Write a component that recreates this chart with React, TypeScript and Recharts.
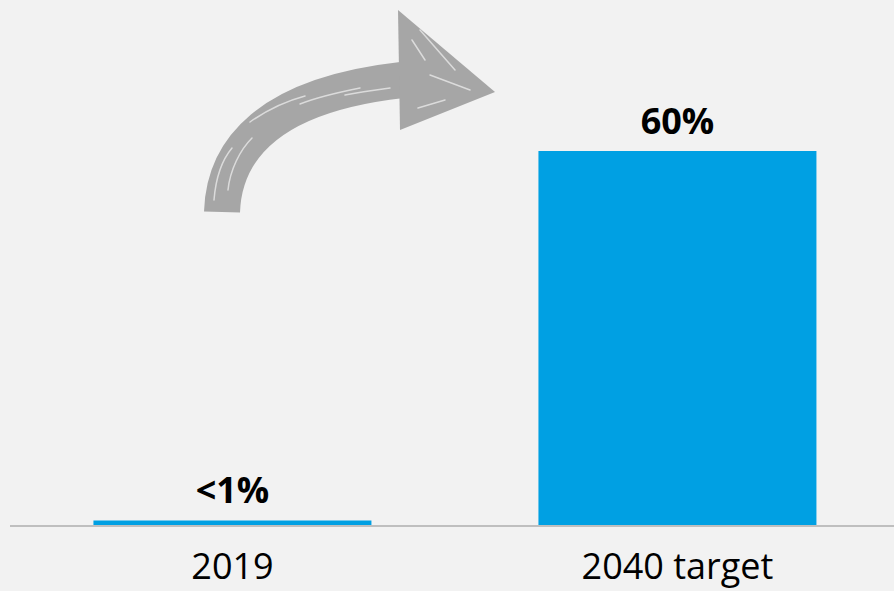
import React from "react";
import { BarChart, Bar, XAxis, YAxis, LabelList } from "recharts";

const categories = ["2019", "2040 target"];
const shareValues = [0.9, 60];
const valueLabels = ["<1%", "60%"];

const data = categories.map((c, i) => ({
  name: c,
  value: shareValues[i],
  label: valueLabels[i],
}));

const FONT = "'Open Sans', 'Noto Sans', sans-serif";

const Arrow = () => (
  <svg
    width={894}
    height={591}
    style={{ position: "absolute", left: 0, top: 0, pointerEvents: "none" }}
  >
    <path
      d="M 222 212 C 224 150, 268 95, 402 80"
      fill="none"
      stroke="#a6a6a6"
      strokeWidth={36}
    />
    <polygon points="398,10 495,92 400,130" fill="#a6a6a6" />
    <g stroke="#f2f2f2" strokeWidth={1.5} strokeLinecap="round" opacity={0.7} fill="none">
      <path d="M 214 200 C 216 175, 222 160, 232 148" />
      <path d="M 228 190 C 230 170, 240 150, 252 138" />
      <path d="M 250 122 C 270 108, 290 100, 305 96" />
      <path d="M 300 104 C 320 96, 340 92, 360 88" />
      <path d="M 345 95 C 360 92, 375 90, 390 88" />
      <path d="M 412 40 L 425 60" />
      <path d="M 420 30 L 455 70" />
      <path d="M 418 108 L 445 100" />
      <path d="M 430 75 L 470 90" />
    </g>
  </svg>
);

export default function App() {
  return (
    <div
      style={{
        position: "absolute",
        left: 0,
        top: 0,
        width: 894,
        height: 591,
        overflow: "hidden",
        background: "#f2f2f2",
      }}
    >
      <BarChart
        width={900}
        height={591}
        data={data}
        margin={{ top: 151, right: 0, bottom: 0, left: 10 }}
        barCategoryGap="18.75%"
      >
        <YAxis hide domain={[0, 60]} />
        <XAxis
          dataKey="name"
          height={65}
          axisLine={{ stroke: "#bfbfbf", strokeWidth: 2 }}
          tickLine={false}
          tickMargin={21}
          tick={{ fill: "#000", fontSize: 36, fontFamily: FONT }}
        />
        <Bar dataKey="value" fill="#00a0e3" isAnimationActive={false}>
          <LabelList
            dataKey="label"
            position="top"
            offset={17}
            style={{ fill: "#000", fontSize: 36, fontWeight: 700, fontFamily: FONT }}
          />
        </Bar>
      </BarChart>
      <Arrow />
    </div>
  );
}
